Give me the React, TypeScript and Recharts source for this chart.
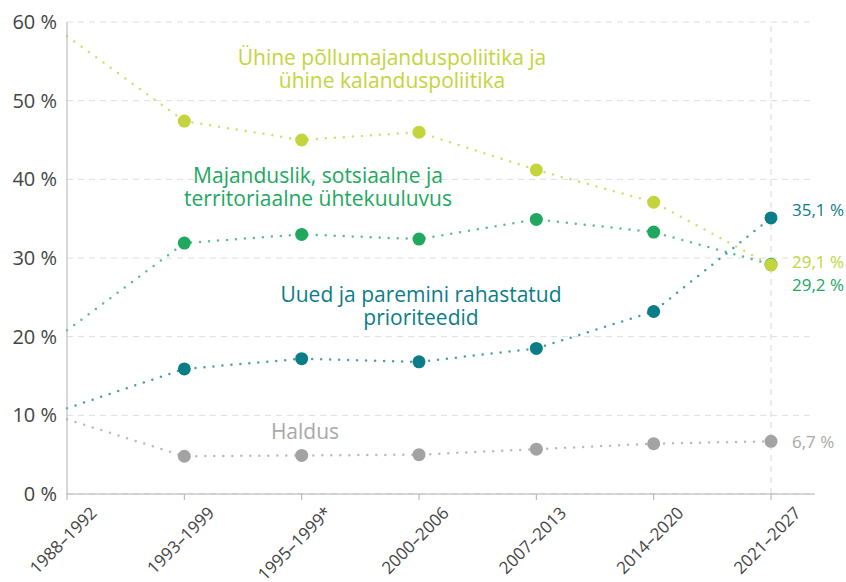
import { LineChart, Line, XAxis, YAxis, CartesianGrid, ReferenceLine } from 'recharts';

const periods = ['1988–1992', '1993–1999', '1995–1999*', '2000–2006', '2007–2013', '2014–2020', '2021–2027'];
const agriculture = [58.2, 47.4, 45.0, 46.0, 41.2, 37.1, 29.1];
const cohesion = [20.8, 31.9, 33.0, 32.4, 34.9, 33.3, 29.2];
const newPriorities = [10.9, 15.9, 17.2, 16.8, 18.5, 23.2, 35.1];
const administration = [9.5, 4.8, 4.9, 5.0, 5.7, 6.4, 6.7];
const yTicks = [0, 10, 20, 30, 40, 50, 60];

const data = periods.map((p, i) => ({
  period: p,
  agriculture: agriculture[i],
  cohesion: cohesion[i],
  newPriorities: newPriorities[i],
  administration: administration[i],
}));

const FONT = '"Open Sans", sans-serif';

const series = [
  { key: 'administration', color: '#a3a3a3', labelColor: '#a8a8a8', dy: 0 },
  { key: 'newPriorities', color: '#0b7d87', labelColor: '#0b7d87', dy: -8 },
  { key: 'cohesion', color: '#21a85f', labelColor: '#21a85f', dy: 20 },
  { key: 'agriculture', color: '#c3d43c', labelColor: '#c3d43c', dy: -4 },
];

const fmt = (v: number) => `${v.toFixed(1).replace('.', ',')} %`;

const makeDot = (color: string) => (props: any) => {
  const { cx, cy, index } = props;
  if (index === 0) return <g key={`d${index}`} />;
  return <circle key={`d${index}`} cx={cx} cy={cy} r={6.5} fill={color} />;
};

const makeLabel = (color: string, dy: number) => (props: any) => {
  const { x, y, value, index } = props;
  if (index !== periods.length - 1) return <g key={`l${index}`} />;
  return (
    <text key={`l${index}`} x={x + 21} y={y + dy} dominantBaseline="central" fontSize={17} fill={color} fontFamily={FONT}>
      {fmt(value)}
    </text>
  );
};

// rotated category labels, end of text sits right of the tick
const XTick = (props: any) => {
  const { x, y, payload } = props;
  const ex = x + 31;
  const ey = y + 12;
  return (
    <text x={ex} y={ey} transform={`rotate(-45, ${ex}, ${ey})`} textAnchor="end" fontSize={17} fill="#444" fontFamily={FONT}>
      {payload.value}
    </text>
  );
};

export default function App() {
  return (
    <div style={{ position: 'absolute', left: 0, top: 0, width: 846, height: 582, background: '#fff' }}>
      <LineChart width={846} height={582} data={data} margin={{ top: 22, right: 31, bottom: 0, left: 0 }}>
        <CartesianGrid vertical={false} stroke="#dedede" strokeDasharray="6 5" />
        <XAxis
          dataKey="period"
          height={88}
          padding={{ left: 0, right: 44 }}
          stroke="#b0b0b0"
          tickSize={6}
          tick={<XTick />}
          interval={0}
        />
        <YAxis
          width={67}
          domain={[0, 60]}
          ticks={yTicks}
          tickFormatter={(v: number) => `${v} %`}
          stroke="#b0b0b0"
          tickLine={false}
          tickSize={0}
          tickMargin={10}
          tick={{ fontSize: 20, fill: '#444', fontFamily: FONT }}
        />
        <ReferenceLine x="2021–2027" stroke="#d8d8d8" strokeDasharray="6 5" />
        {series.map((s) => (
          <Line
            key={s.key}
            dataKey={s.key}
            type="linear"
            stroke={s.color}
            strokeWidth={2.5}
            strokeDasharray="0 9"
            strokeLinecap="round"
            strokeOpacity={0.75}
            dot={makeDot(s.color)}
            activeDot={false}
            label={makeLabel(s.labelColor, s.dy)}
            isAnimationActive={false}
          />
        ))}
      </LineChart>
      <svg width={846} height={582} style={{ position: 'absolute', left: 0, top: 0, pointerEvents: 'none' }} fontFamily={FONT} fontSize={21} textAnchor="middle">
        <text x={392} y={65} fill="#c3d43c">Ühine põllumajanduspoliitika ja</text>
        <text x={392} y={88} fill="#c3d43c">ühine kalanduspoliitika</text>
        <text x={318} y={183} fill="#21a85f">Majanduslik, sotsiaalne ja</text>
        <text x={318} y={206} fill="#21a85f">territoriaalne ühtekuuluvus</text>
        <text x={421} y={302} fill="#0b7d87">Uued ja paremini rahastatud</text>
        <text x={421} y={325} fill="#0b7d87">prioriteedid</text>
        <text x={305} y={439} fill="#a8a8a8">Haldus</text>
      </svg>
    </div>
  );
}
